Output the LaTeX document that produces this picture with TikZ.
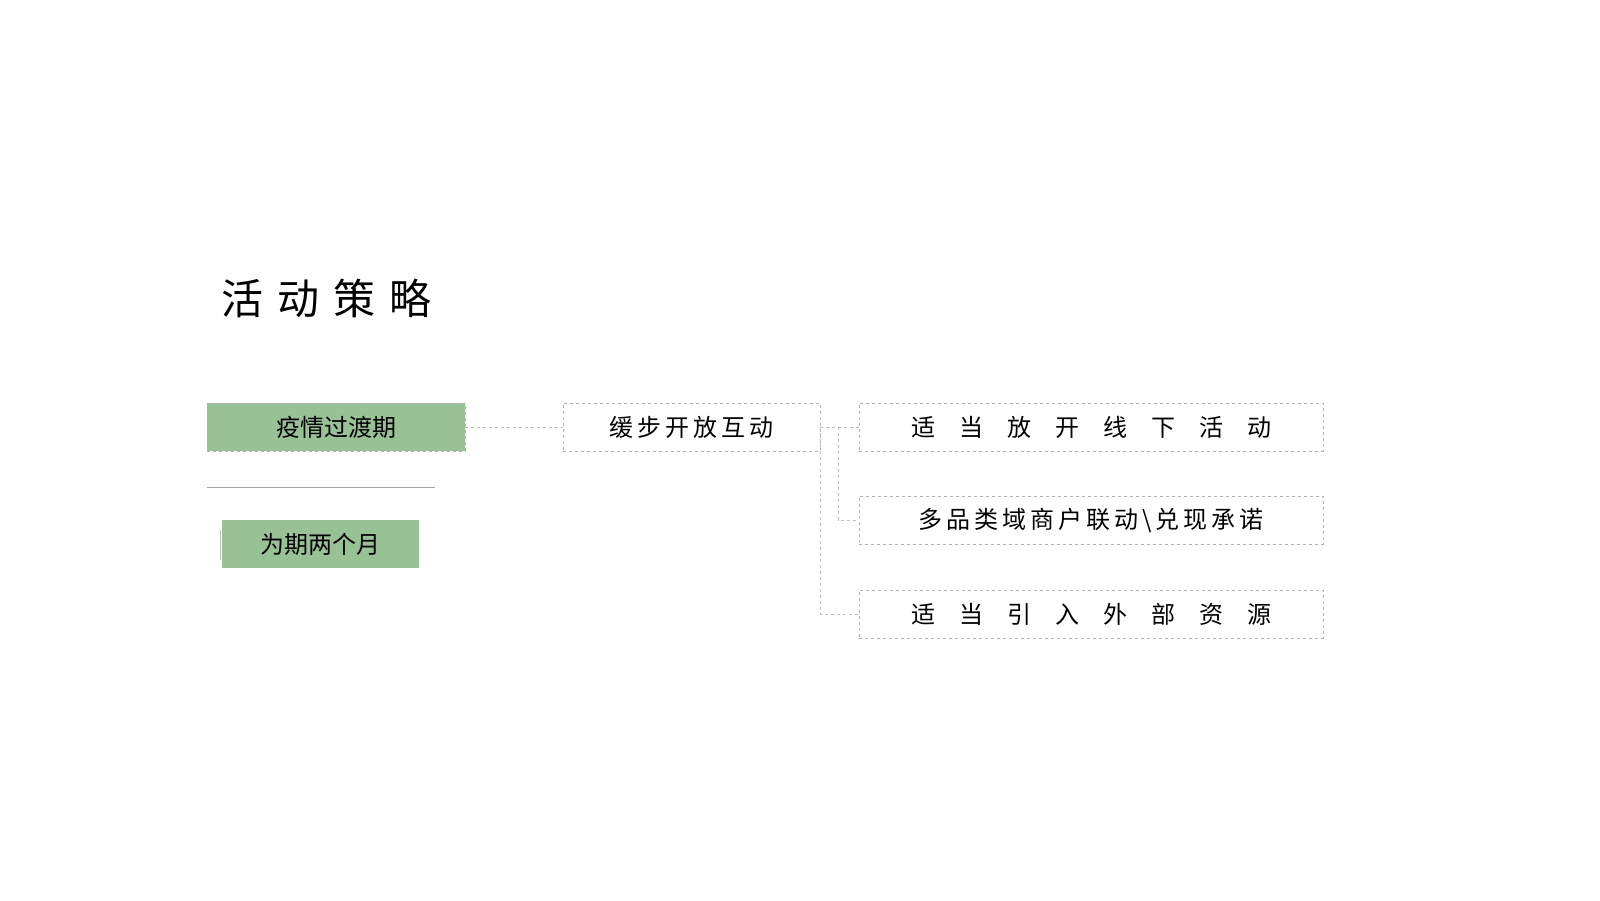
\documentclass[tikz,border=0pt]{standalone}
\usepackage{fontspec}
\setmainfont{Noto Sans CJK SC}[Scale=1]
\begin{document}
\begin{tikzpicture}[x=1pt,y=-1pt,
  gbox/.style={fill=green!30!gray!60!white, fill=gfill, draw=gray!60, dashed, minimum height=48pt, inner sep=0pt},
  wbox/.style={draw=gray!60, dashed, minimum height=48pt, inner sep=0pt, font=\fontsize{24pt}{26pt}\selectfont},
  conn/.style={draw=gray!50, dashed}]
\definecolor{gfill}{HTML}{98C195}
\useasboundingbox (0,0) rectangle (1600,900);
\node[anchor=west, font=\fontsize{42pt}{44pt}\selectfont] (title) at (218,298) {活\,\,动\,\,策\,\,略};
\node[gbox, minimum width=258pt, font=\fontsize{24pt}{26pt}\selectfont] (a) at (336,427) {疫情过渡期};
\draw[gray!70] (207,487) coordinate (l1) -- (435,487) coordinate (l2);
\draw[gray!50] (220,530) -- (220,560);
\node[fill=gfill, minimum width=197pt, minimum height=48pt, inner sep=0pt, font=\fontsize{24pt}{26pt}\selectfont] (b) at (320.5,544) {为期两个月};
\node[wbox, minimum width=257pt] (c) at (691.5,427) {缓\,步\,开\,放\,互\,动};
\node[wbox, minimum width=464pt] (d1) at (1091,427) {适\quad 当\quad 放\quad 开\quad 线\quad 下\quad 活\quad 动};
\node[wbox, minimum width=464pt] (d2) at (1091,520) {多\,品\,类\,域\,商\,户\,联\,动\,\textbackslash\,兑\,现\,承\,诺};
\node[wbox, minimum width=464pt] (d3) at (1091,614) {适\quad 当\quad 引\quad 入\quad 外\quad 部\quad 资\quad 源};
\draw[conn] (a.east) -- (c.west);
\draw[conn] (c.east) -- (d1.west);
\draw[conn] (c.east) -- (c.east -| 838,0) |- (d2.west);
\draw[conn] (c.east) |- (d3.west);
\end{tikzpicture}
\end{document}
